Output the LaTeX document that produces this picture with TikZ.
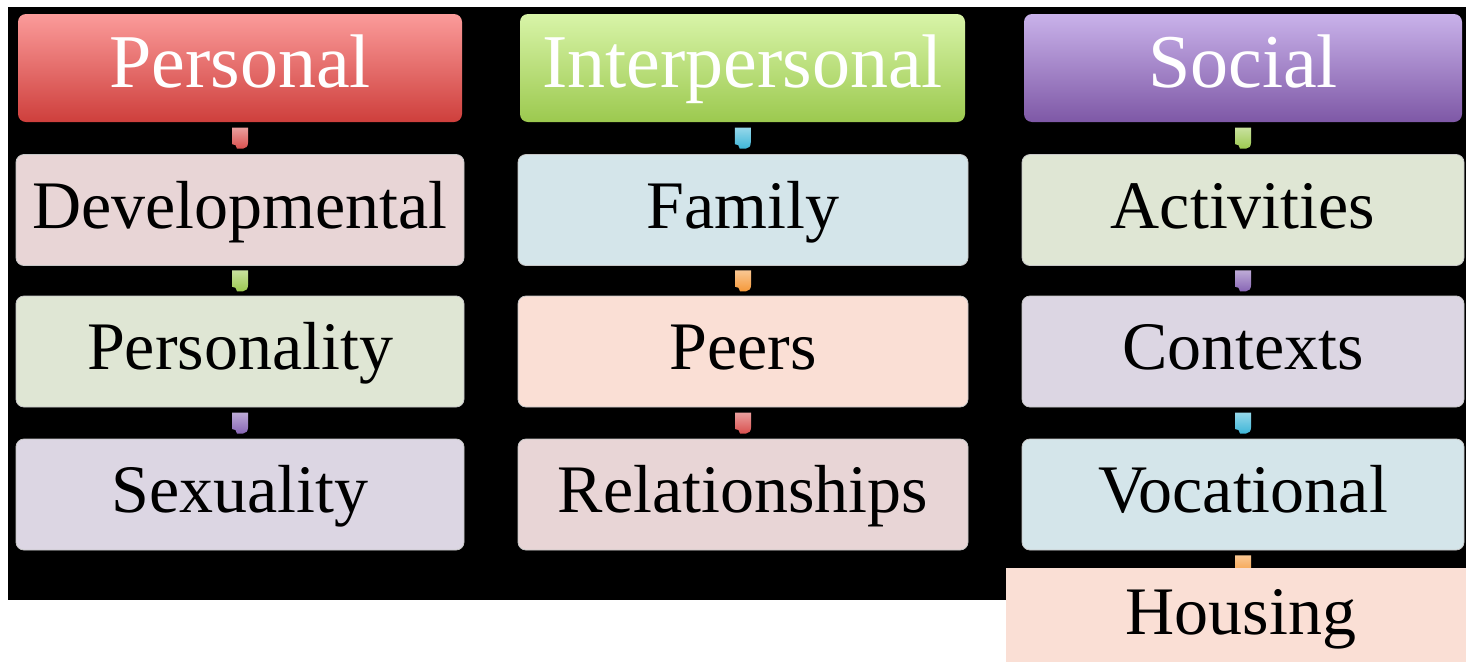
\documentclass[tikz,border=0pt]{standalone}
\usepackage{fontspec}
\setmainfont{Liberation Serif}
\usetikzlibrary{calc}

% header gradients
\definecolor{redTop}{HTML}{FB9B9A}
\definecolor{redBot}{HTML}{CE3F3C}
\definecolor{grnTop}{HTML}{D8F4A8}
\definecolor{grnBot}{HTML}{9CC94F}
\definecolor{purTop}{HTML}{C9B2EA}
\definecolor{purBot}{HTML}{7E58A6}
% pale box fills
\definecolor{paleRed}{HTML}{E8D5D6}
\definecolor{paleGrn}{HTML}{DFE6D4}
\definecolor{palePur}{HTML}{DCD6E3}
\definecolor{paleBlu}{HTML}{D4E5EA}
\definecolor{palePch}{HTML}{FADFD5}
% small link tabs
\definecolor{tabRed}{HTML}{D9504E}
\definecolor{tabGrn}{HTML}{9CC950}
\definecolor{tabPur}{HTML}{8866B5}
\definecolor{tabCyn}{HTML}{3EB6D8}
\definecolor{tabOrg}{HTML}{F5993A}

\tikzset{
  header/.style={rectangle, rounded corners=8pt, inner sep=0pt,
    minimum width=442pt, minimum height=108pt, text=white,
    font=\fontsize{76}{84}\selectfont, text height=50pt, text depth=12pt},
  itemtext/.style={font=\fontsize{68}{76}\selectfont,
    text height=46pt, text depth=10pt},
  item/.style={rectangle, rounded corners=8pt, inner sep=0pt,
    draw=black!22, line width=0.8pt,
    minimum height=111pt, text=black, itemtext},
  tabshade/.style={top color=#1!55!white, bottom color=#1},
}

% small shield-shaped link marker centred at #1
\newcommand\linktab[2]{%
  \shade[tabshade=#2, shift={#1}]
    (-8,-10.5) -- (8,-10.5) -- (8,4.5)
    .. controls (8,8) and (6,10.5) .. (3,10.5)
    -- (-3,10.5) -- (-4.5,7) -- (-8,6) -- cycle;}

\begin{document}
\begin{tikzpicture}[x=1pt, y=-1pt]
  \clip (0,0) rectangle (1466,662);
  \fill[white] (0,0) rectangle (1466,662);
  \fill[black] (8,7) rectangle (1466,600);

  % column headers
  \node[header, top color=redTop, bottom color=redBot, minimum width=444pt]
    (personal) at (240,68) {Personal};
  \node[header, top color=grnTop, bottom color=grnBot, minimum width=445pt]
    (interpersonal) at (742.5,68) {Interpersonal};
  \node[header, top color=purTop, bottom color=purBot, minimum width=438pt]
    (social) at (1243,68) {Social};

  % personal column
  \node[item, fill=paleRed, minimum width=448pt] (developmental) at (240,210) {Developmental};
  \node[item, fill=paleGrn, minimum width=448pt] (personality) at (240,351.5) {Personality};
  \node[item, fill=palePur, minimum width=448pt] (sexuality) at (240,494.5) {Sexuality};

  % interpersonal column
  \node[item, fill=paleBlu, minimum width=450pt] (family) at (743,210) {Family};
  \node[item, fill=palePch, minimum width=450pt] (peers) at (743,351.5) {Peers};
  \node[item, fill=paleRed, minimum width=450pt] (relationships) at (743,494.5) {Relationships};

  % social column
  \node[item, fill=paleGrn, minimum width=442pt] (activities) at (1243,210) {Activities};
  \node[item, fill=palePur, minimum width=442pt] (contexts) at (1243,351.5) {Contexts};
  \node[item, fill=paleBlu, minimum width=442pt] (vocational) at (1243,494.5) {Vocational};

  % link markers
  \linktab{($(personal.south)!0.5!(developmental.north)$)}{tabRed}
  \linktab{($(developmental.south)!0.5!(personality.north)$)}{tabGrn}
  \linktab{($(personality.south)!0.5!(sexuality.north)$)}{tabPur}
  \linktab{($(interpersonal.south)!0.5!(family.north)$)}{tabCyn}
  \linktab{($(family.south)!0.5!(peers.north)$)}{tabOrg}
  \linktab{($(peers.south)!0.5!(relationships.north)$)}{tabRed}
  \linktab{($(social.south)!0.5!(activities.north)$)}{tabGrn}
  \linktab{($(activities.south)!0.5!(contexts.north)$)}{tabPur}
  \linktab{($(contexts.south)!0.5!(vocational.north)$)}{tabCyn}
  \linktab{($(vocational.south)+(0,15.5)$)}{tabOrg}

  % last item, set below the dark panel
  \node[rectangle, fill=palePch, inner sep=0pt, minimum width=460pt,
        minimum height=94pt] (housingbox) at (1236,615) {};
  \node[itemtext, inner sep=0pt, text depth=8pt] (housing) at (1241,615) {Housing};
\end{tikzpicture}
\end{document}
